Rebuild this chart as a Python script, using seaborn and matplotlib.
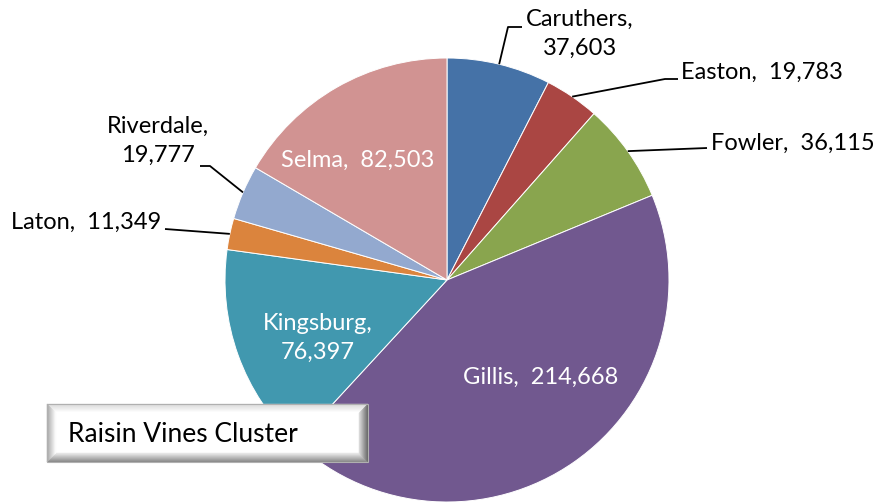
import matplotlib
matplotlib.use("Agg")
import matplotlib.pyplot as plt
from matplotlib.patches import Polygon
import numpy as np
import seaborn as sns

# Raisin vine acreage by area (Raisin Vines Cluster)
areas = ["Caruthers", "Easton", "Fowler", "Gillis", "Kingsburg", "Laton", "Riverdale", "Selma"]
acres = [37603, 19783, 36115, 214668, 76397, 11349, 19777, 82503]
slice_colors = ["#4572A7", "#AA4643", "#89A54E", "#71588F", "#4198AF", "#DB843D", "#93A9CF", "#D19392"]
cluster_title = "Raisin Vines Cluster"

sns.set_theme(style="white")
plt.rcParams["font.family"] = ["Lato", "DejaVu Sans"]

W, H = 893, 504
fig = plt.figure(figsize=(W / 100, H / 100), dpi=100)
ax = fig.add_axes([0, 0, 1, 1])
ax.set_xlim(0, W)
ax.set_ylim(0, H)
ax.set_aspect("equal")
ax.axis("off")


def Y(y):
    """Convert a top-down pixel row into the axes' bottom-up coordinate."""
    return H - y


cx, cy, R = 447, 280, 222
palette = sns.color_palette(slice_colors)
ax.pie(acres, colors=palette, startangle=90, counterclock=False,
       center=(cx, Y(cy)), radius=R,
       wedgeprops=dict(edgecolor="white", linewidth=0.7))
ax.set_xlim(0, W)
ax.set_ylim(0, H)

total = float(sum(acres))
cum = np.cumsum([0] + acres[:-1])


def rim_point(i):
    frac = (cum[i] + acres[i] / 2) / total
    ang = np.deg2rad(90 - 360 * frac)
    return cx + R * np.cos(ang), cy - R * np.sin(ang)


def fmt(name, v, sep="  "):
    return f"{name},{sep}{v:,}"


FS = 17
idx = {a: i for i, a in enumerate(areas)}

# outside labels with leader lines: (area, text, x, y, ha, elbow points)
outside = [
    ("Caruthers", fmt("Caruthers", acres[idx["Caruthers"]], "\n"), 580, 34, "center", [(508, 27), (522, 27)]),
    ("Easton", fmt("Easton", acres[idx["Easton"]]), 681, 72, "left", [(665, 79), (678, 79)]),
    ("Fowler", fmt("Fowler", acres[idx["Fowler"]]), 711, 143, "left", [(707, 148)]),
    ("Riverdale", fmt("Riverdale", acres[idx["Riverdale"]], "\n"), 158, 141, "center", [(210, 166), (200, 166)]),
    ("Laton", fmt("Laton", acres[idx["Laton"]]), 161, 222, "right", [(165, 229)]),
]
for area, txt, tx, ty, ha, pts in outside:
    sx, sy = rim_point(idx[area])
    xs = [sx] + [p[0] for p in pts]
    ys = [Y(sy)] + [Y(p[1]) for p in pts]
    ax.plot(xs, ys, color="black", lw=1.3, solid_capstyle="butt")
    ax.text(tx, Y(ty), txt, ha=ha, va="center", fontsize=FS, color="black",
            linespacing=1.45, multialignment="center")

# labels inside the larger slices
inside = [
    ("Selma", fmt("Selma", acres[idx["Selma"]]), 358, 160),
    ("Kingsburg", fmt("Kingsburg", acres[idx["Kingsburg"]], "\n"), 318, 338),
    ("Gillis", fmt("Gillis", acres[idx["Gillis"]]), 541, 377),
]
for area, txt, tx, ty in inside:
    ax.text(tx, Y(ty), txt, ha="center", va="center", fontsize=FS, color="white",
            linespacing=1.45, multialignment="center")

# bevelled title box
x0, x1, y0, y1 = 47, 368, 404, 462
bev = 9
steps = 9


def mix(c_out, c_in, t):
    a = np.array(matplotlib.colors.to_rgb(c_out))
    b = np.array(matplotlib.colors.to_rgb(c_in))
    return tuple(a + (b - a) * t)


ax.add_patch(Polygon([(x0, Y(y0)), (x1, Y(y0)), (x1, Y(y1)), (x0, Y(y1))],
                     closed=True, facecolor="white", edgecolor="none", zorder=5))
sides = {
    "top": ("#d8d8d8", "#ffffff"),
    "left": ("#a8a8a8", "#fafafa"),
    "right": ("#6a6a6a", "#d8d8d8"),
    "bottom": ("#8a8a8a", "#e6e6e6"),
}
for k in range(steps):
    a = k * bev / steps
    b = (k + 1) * bev / steps
    t = k / (steps - 1)
    quads = {
        "top": [(x0 + a, y0 + a), (x1 - a, y0 + a), (x1 - b, y0 + b), (x0 + b, y0 + b)],
        "bottom": [(x0 + a, y1 - a), (x1 - a, y1 - a), (x1 - b, y1 - b), (x0 + b, y1 - b)],
        "left": [(x0 + a, y0 + a), (x0 + b, y0 + b), (x0 + b, y1 - b), (x0 + a, y1 - a)],
        "right": [(x1 - a, y0 + a), (x1 - b, y0 + b), (x1 - b, y1 - b), (x1 - a, y1 - a)],
    }
    for side, q in quads.items():
        c = mix(sides[side][0], sides[side][1], t)
        ax.add_patch(Polygon([(px, Y(py)) for px, py in q], closed=True,
                             facecolor=c, edgecolor=c, lw=0.3, zorder=6))
ax.add_patch(Polygon([(x0, Y(y0)), (x1, Y(y0)), (x1, Y(y1)), (x0, Y(y1))],
                     closed=True, facecolor="none", edgecolor="#b0b0b0", lw=0.8, zorder=7))
ax.text(68, Y(434), cluster_title, ha="left", va="center", fontsize=19,
        color="black", zorder=8)

fig.savefig("out.png", dpi=100)
